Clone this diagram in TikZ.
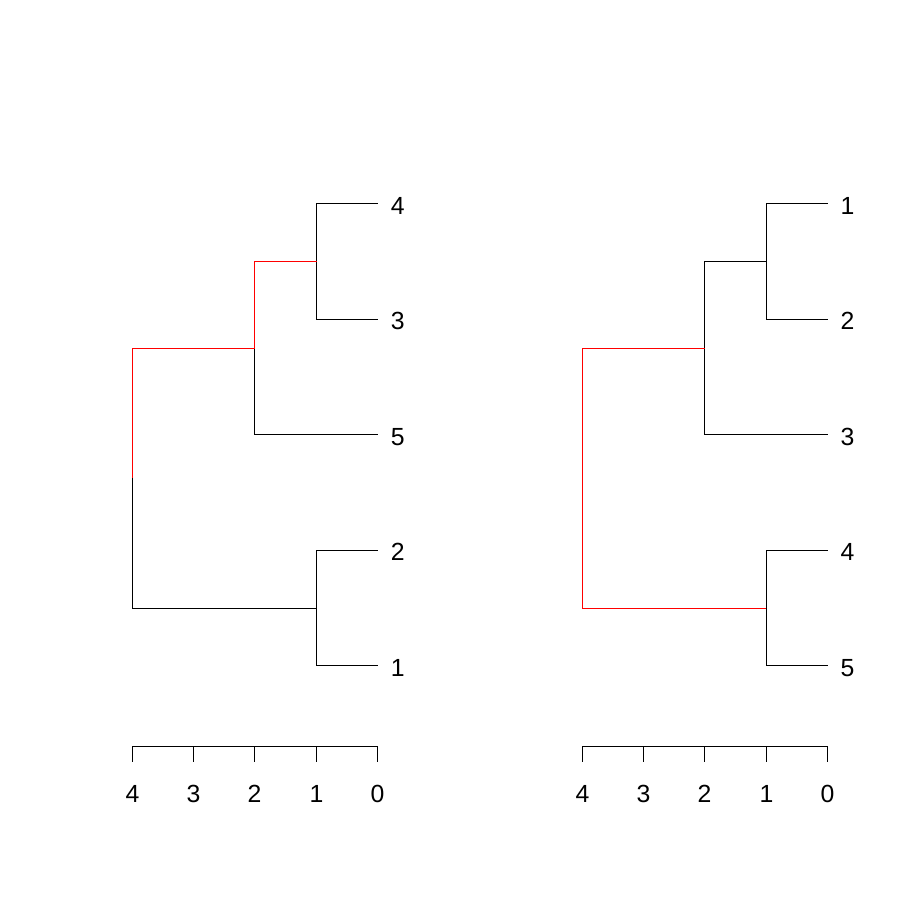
\documentclass[tikz,border=0pt]{standalone}
\usepackage{fontspec}
\setmainfont{Liberation Sans}
\usetikzlibrary{positioning}

\begin{document}
\begin{tikzpicture}[
            x=0.5pt, y=-0.5pt,
            line/.style = {draw, line width=0.55pt, line cap=rect},
            redline/.style = {line, red},
            lbl/.style = {inner sep=0pt, font=\fontsize{12.4}{14}\selectfont},
            ]
            \useasboundingbox (0,0) rectangle (900,900);

            % left tree
            \coordinate (A4) at (377.5,203.5);
            \coordinate (A3) at (377.5,319.5);
            \coordinate (A5) at (377.5,434.5);
            \coordinate (A2) at (377.5,550.5);
            \coordinate (A1) at (377.5,665.5);
            \coordinate (A43) at (316.5,261.5);
            \coordinate (A435) at (254.5,348.5);
            \coordinate (A21) at (316.5,608.5);
            \coordinate (Aroot) at (132.5,478.5);

            \node[lbl] (a4) at (397.7,205.5) {4};
            \node[lbl] (a3) at (397.7,321.3) {3};
            \node[lbl] (a5) at (397.7,436.6) {5};
            \node[lbl] (a2) at (397.7,552.2) {2};
            \node[lbl] (a1) at (397.7,667.8) {1};

            \draw[line] (A4) -| (A43 |- A3) -- (A3);
            \draw[redline] (A43) -| (A435);
            \draw[line] (A435) |- (A5);
            \draw[redline] (A435) -| (Aroot);
            \draw[line] (Aroot) |- (A21);
            \draw[line] (A2) -| (A21 |- A1) -- (A1);

            % right tree
            \coordinate (B1) at (827.5,203.5);
            \coordinate (B2) at (827.5,319.5);
            \coordinate (B3) at (827.5,434.5);
            \coordinate (B4) at (827.5,550.5);
            \coordinate (B5) at (827.5,665.5);
            \coordinate (B12) at (766.5,261.5);
            \coordinate (B123) at (704.5,348.5);
            \coordinate (B45) at (766.5,608.5);
            \coordinate (Broot) at (582.5,478.5);

            \node[lbl] (b1) at (847.5,205.5) {1};
            \node[lbl] (b2) at (847.5,321.3) {2};
            \node[lbl] (b3) at (847.5,436.6) {3};
            \node[lbl] (b4) at (847.5,552.2) {4};
            \node[lbl] (b5) at (847.5,667.8) {5};

            \draw[line] (B1) -| (B12 |- B2) -- (B2);
            \draw[line] (B12) -| (B123) |- (B3);
            \draw[redline] (B123) -| (Broot |- B45) -- (B45);
            \draw[line] (B4) -| (B45 |- B5) -- (B5);

            % axes
            \foreach \p/\x in {A/132.5, B/582.5} {
                \draw[line] (\x,761.5) -- (\x,746.5) -- ++(245,0) -- ++(0,15);
                \foreach \h/\d in {0/245,1/184,2/122,3/61,4/0} {
                    \coordinate (\p t\h) at (\x+\d,746.5);
                    \draw[line] (\p t\h) -- ++(0,15);
                    \node[lbl] (\p n\h) at (\x+\d,794) {\h};
                }
            }
        \end{tikzpicture}
\end{document}
